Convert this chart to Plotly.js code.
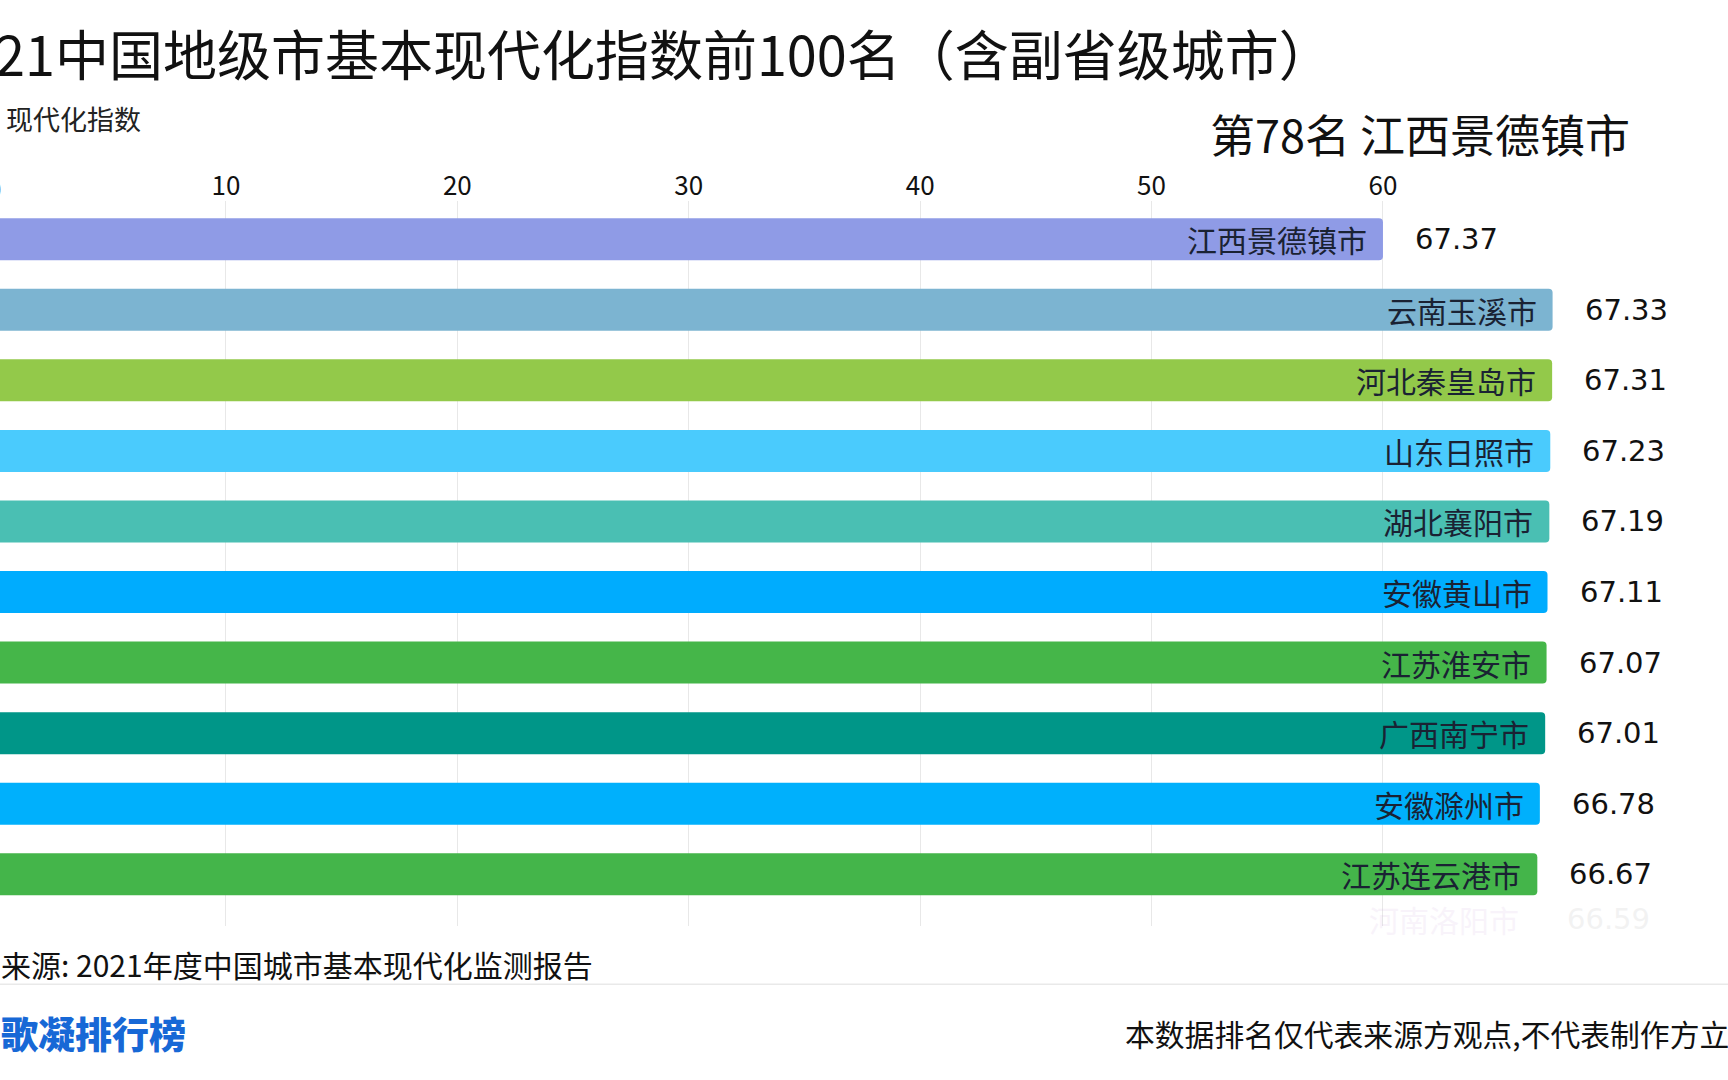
<!DOCTYPE html>
<html><head><meta charset="utf-8">
<script src="https://cdn.plot.ly/plotly-3.0.1.min.js"></script>
<style>html,body{margin:0;padding:0;background:#fff;overflow:hidden}#chart{width:1728px;height:1080px}</style>
</head><body><div id="chart"></div>
<script>
// ---------- data ----------
const chartTitle = '2021中国地级市基本现代化指数前100名（含副省级城市）';
const axisLabel = '现代化指数';
const startRank = 78;
const cities = ['江西景德镇市','云南玉溪市','河北秦皇岛市','山东日照市','湖北襄阳市','安徽黄山市','江苏淮安市','广西南宁市','安徽滁州市','江苏连云港市','河南洛阳市'];
const scores = [67.37,67.33,67.31,67.23,67.19,67.11,67.07,67.01,66.78,66.67,66.59];
// bar lengths as drawn in this animation frame (top bar still growing, last row fading in)
const barLengths = [60.0,67.33,67.31,67.23,67.19,67.11,67.07,67.01,66.78,66.67,66.59];
const barColors = ['#8f9be6','#7cb4d1','#93c94a','#4acbfd','#4abfb3','#00acfe','#45b649','#009688','#00b0fc','#44b54a','rgba(255,255,255,0)'];
const rowOpacity = [1,1,1,1,1,1,1,1,1,1,0.12];
const xTicks = [0,10,20,30,40,50,60];
const sourceNote = '来源: 2021年度中国城市基本现代化监测报告';
const brand = '歌凝排行榜';
const disclaimer = '本数据排名仅代表来源方观点,不代表制作方立场';

// ---------- layout geometry ----------
const W = 1728, H = 1080;
const mT = 201, mB = 154.3;
const plotH = H - mT - mB;
const xRange = [0.238, 74.91];
const yRange = [9.733, -0.542];
const incomingRowPos = 9.63;   // the row sliding in below the last bar (axis index units)
const CJK = '"Noto Sans CJK SC", "Noto Sans", sans-serif';
const NUM = '"DejaVu Sans", sans-serif';
const px2x = px => px / W;
const py2y = py => (H - mB - py) / plotH;

const annotations = [];
annotations.push({text: chartTitle, xref:'paper', yref:'paper', x: px2x(1335), y: py2y(53), xanchor:'right', yanchor:'middle', showarrow:false, font:{family:CJK, size:54, color:'#111'}});
annotations.push({text: `第${startRank}名 ${cities[0]}`, xref:'paper', yref:'paper', x: px2x(1632), y: py2y(134), xanchor:'right', yanchor:'middle', showarrow:false, font:{family:CJK, size:45, color:'#111'}});
annotations.push({text: axisLabel, xref:'paper', yref:'paper', x: px2x(4), y: py2y(119), xanchor:'left', yanchor:'middle', showarrow:false, font:{family:CJK, size:27, color:'#222'}});
annotations.push({text: String(xTicks[0]), xref:'paper', yref:'paper', x: (xTicks[0]-xRange[0])/(xRange[1]-xRange[0]), y: py2y(188), xanchor:'center', yanchor:'middle', showarrow:false, font:{family:CJK, size:26, color:'#111'}});

cities.forEach((c, i) => {
  const inRange = i < 10;
  const yv = inRange ? c : incomingRowPos;
  const op = rowOpacity[i];
  annotations.push({text: c, xref:'x', yref:'y', x: barLengths[i], y: yv, xanchor:'right', yanchor:'middle', xshift:-14, showarrow:false, opacity: op,
    font:{family:CJK, size:30, color: inRange ? '#1a2233' : '#c9a0d8'}});
  annotations.push({text: scores[i].toFixed(2), xref:'x', yref:'y', x: barLengths[i], y: yv, xanchor:'left', yanchor:'middle', xshift:30, showarrow:false, opacity: op,
    font:{family:NUM, size:29, weight:500, color: inRange ? '#111' : '#999'}});
});

annotations.push({text: sourceNote, xref:'paper', yref:'paper', x: px2x(-1), y: py2y(964), xanchor:'left', yanchor:'middle', showarrow:false, font:{family:CJK, size:30, color:'#111'}});
annotations.push({text: brand, xref:'paper', yref:'paper', x: px2x(-1), y: py2y(1033), xanchor:'left', yanchor:'middle', showarrow:false, font:{family:CJK, size:37, weight:900, color:'#1768d6'}});
annotations.push({text: disclaimer, xref:'paper', yref:'paper', x: px2x(1123), y: py2y(1033), xanchor:'left', yanchor:'middle', showarrow:false, font:{family:CJK, size:29.8, color:'#111'}});

const trace = {
  type:'bar', orientation:'h',
  x: barLengths, y: cities,
  width: 0.595,
  marker:{color: barColors, line:{width:0}, cornerradius:4},
  hoverinfo:'skip', showlegend:false
};

const layout = {
  width: W, height: H,
  margin:{l:0, r:0, t:mT, b:mB, pad:0},
  paper_bgcolor:'#ffffff', plot_bgcolor:'#ffffff',
  xaxis:{side:'top', range:xRange, tickvals:xTicks, showgrid:true, gridcolor:'#e8e8e8', gridwidth:1,
         zeroline:false, showline:false, ticks:'', ticklabelstandoff:0,
         tickfont:{family:CJK, size:26, color:'#111'}, fixedrange:true},
  yaxis:{type:'category', categoryorder:'array', categoryarray:cities.slice(0,10), range:yRange,
         showticklabels:false, showgrid:false, zeroline:false, showline:false, ticks:'', fixedrange:true},
  annotations: annotations,
  shapes:[{type:'line', xref:'paper', yref:'paper', x0:0, x1:1, y0:py2y(984), y1:py2y(984), line:{color:'#e9e9e9', width:1.5}}],
  hovermode:false
};

Plotly.newPlot('chart', [{...trace, x: barLengths.slice(0,10), y: cities.slice(0,10), marker:{...trace.marker, color: barColors.slice(0,10)}}], layout, {displayModeBar:false, staticPlot:true});
</script>
</body></html>
